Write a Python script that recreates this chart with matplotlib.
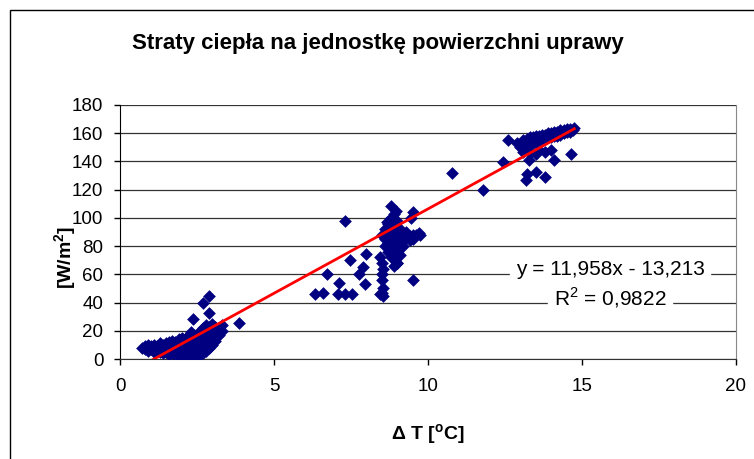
import matplotlib.pyplot as plt
import numpy as np
from matplotlib.patches import Rectangle

plt.rcParams['font.family'] = ['Liberation Sans', 'DejaVu Sans']

# low cluster (dT, q)
low_x = [0.7, 0.8, 0.8, 0.9, 0.9, 1.0, 1.0, 1.1, 1.1, 1.1, 1.2, 1.2, 1.3, 1.3, 1.3,
         1.4, 1.4, 1.4, 1.5, 1.5, 1.5, 1.6, 1.6, 1.6, 1.6, 1.7, 1.7, 1.7, 1.7,
         1.8, 1.8, 1.8, 1.8, 1.9, 1.9, 1.9, 1.9, 1.9, 2.0, 2.0, 2.0, 2.0, 2.0,
         2.1, 2.1, 2.1, 2.1, 2.1, 2.2, 2.2, 2.2, 2.2, 2.2, 2.3, 2.3, 2.3, 2.3, 2.3, 2.3,
         2.4, 2.4, 2.4, 2.4, 2.4, 2.5, 2.5, 2.5, 2.5, 2.6, 2.6, 2.6, 2.6, 2.6,
         2.7, 2.7, 2.7, 2.7, 2.7, 2.8, 2.8, 2.8, 2.8, 2.8, 2.9, 2.9, 2.9, 2.9,
         3.0, 3.0, 3.0, 3.0, 3.1, 3.1, 3.1, 3.2, 3.2, 3.3, 3.3,
         2.38, 2.68, 2.9, 2.9, 3.87]
low_y = [8, 7, 9, 6, 10, 7, 9, 5, 8, 10, 6, 9, 5, 8, 11,
         4, 7, 10, 5, 8, 11, 3, 6, 9, 12, 4, 7, 10, 13,
         3, 6, 9, 12, 2, 5, 8, 11, 14, 3, 6, 9, 12, 15,
         1, 4, 7, 10, 14, 2, 5, 8, 12, 16, 1, 4, 7, 10, 14, 19,
         2, 5, 9, 13, 17, 2, 6, 10, 14, 3, 7, 11, 16, 20,
         4, 8, 13, 18, 22, 6, 10, 15, 20, 24, 8, 13, 18, 23,
         10, 15, 20, 25, 13, 18, 23, 17, 22, 20, 24,
         28.6, 40, 44.6, 32.4, 25.5]

# middle cluster
mid_x = [8.7, 8.8, 8.8, 8.9, 8.9, 8.9, 9.0, 9.0, 9.0, 8.8, 8.7, 8.6, 8.7, 8.8,
         8.9, 9.0, 9.1, 9.1, 9.1, 9.2, 9.2, 9.3, 9.4, 9.5, 9.6, 9.7, 9.75, 9.4,
         9.2, 9.0, 9.1, 8.6, 8.7, 8.8, 8.9, 9.0, 9.3, 9.5, 9.0, 8.9, 8.6, 8.5,
         8.8, 9.5, 9.45, 8.95, 8.66, 7.31, 7.99, 7.47, 7.88, 6.71, 7.76, 7.95,
         7.12, 6.33, 6.58, 7.09, 7.31, 7.52, 8.44, 8.5, 8.55, 8.5, 8.5, 8.55,
         8.5, 8.45, 9.52, 8.98, 8.55]
mid_y = [96, 92, 100, 88, 95, 103, 84, 90, 98, 84, 88, 80, 76, 72,
         78, 76, 80, 86, 92, 84, 88, 86, 87, 88, 88, 89, 88, 84,
         80, 72, 74, 85, 82, 78, 82, 80, 90, 85, 68, 66, 92, 88,
         108.4, 104.4, 100, 105, 97, 97.8, 74.6, 69.9, 65.2, 60, 60, 52.9,
         54, 46.3, 47, 46, 46, 46, 45.8, 47, 44.8, 56, 60, 64,
         68, 72, 55.7, 68.2, 50]

# high cluster
high_x = [13.0, 13.1, 13.1, 13.2, 13.2, 13.3, 13.3, 13.4, 13.4, 13.5, 13.5,
          13.6, 13.6, 13.7, 13.7, 13.8, 13.8, 13.9, 13.9, 14.0, 14.0, 14.1, 14.1,
          14.2, 14.2, 14.3, 14.3, 14.4, 14.4, 14.5, 14.5, 14.6, 14.6, 14.7, 14.75,
          13.1, 13.3, 13.5, 13.6, 13.8, 14.0, 13.2,
          12.61, 11.78, 12.45, 13.2, 13.17, 13.51, 13.8, 14.1, 14.63, 13.29,
          10.78, 12.9]
high_y = [150, 151, 155, 152, 156, 153, 157, 153, 157, 154, 158,
          155, 158, 155, 159, 156, 159, 157, 160, 157, 160, 158, 161,
          158, 161, 159, 162, 160, 162, 161, 163, 161, 163, 162, 163.5,
          147, 146, 145, 148, 147, 148, 149,
          155, 119.5, 139.6, 130.8, 126.9, 132.7, 129.2, 141, 145.5, 140.8,
          131.8, 153]

slope = 11.958
intercept = -13.213

x_all = np.array(low_x + mid_x + high_x)
y_all = np.array(low_y + mid_y + high_y)

fig = plt.figure(figsize=(7.54, 4.59), dpi=100)
ax = fig.add_axes([120 / 754, 1 - 359 / 459, (736 - 120) / 754, (359 - 105) / 459])

ax.scatter(x_all, y_all, marker='D', s=42, color='#000080', linewidths=0, zorder=3)

xl = np.array([x_all.min(), x_all.max()])
ax.plot(xl, slope * xl + intercept, color='#ff0000', lw=2, zorder=4)

ax.set_xlim(0, 20)
ax.set_ylim(0, 180)
ax.set_xticks([0, 5, 10, 15, 20])
ax.set_yticks(np.arange(0, 181, 20))
ax.yaxis.grid(True, color='#333333', lw=0.9)
ax.set_axisbelow(True)
ax.tick_params(labelsize=13.5, length=4.5, width=1, color='black')
ax.tick_params(axis='x', pad=9)
ax.tick_params(axis='y', pad=7.5)
ax.spines['right'].set_color('#888888')
ax.spines['top'].set_visible(False)
ax.spines['left'].set_color('black')
ax.spines['bottom'].set_color('#333333')

ax.set_xlabel('Δ T [$^{\\mathregular{o}}$C]', fontsize=14, fontweight='bold', labelpad=20)
ax.set_ylabel('[W/m$^{\\mathregular{2}}$]', fontsize=14, fontweight='bold')
ax.yaxis.set_label_coords(-0.066, 0.40)

ax.text(0.796, 0.352, 'y = 11,958x - 13,213', transform=ax.transAxes, fontsize=15,
        ha='center', va='center', backgroundcolor='white', zorder=5)
ax.text(0.796, 0.242, 'R$^{\\mathregular{2}}$ = 0,9822', transform=ax.transAxes, fontsize=15,
        ha='center', va='center', backgroundcolor='white', zorder=5)

fig.text(378 / 754, 1 - 43 / 459, 'Straty ciepła na jednostkę powierzchni uprawy',
         fontsize=16, fontweight='bold', ha='center', va='center')

fig.patches.append(Rectangle((10 / 754, -0.1), 1.2, 1 - 10 / 459 + 0.1,
                             transform=fig.transFigure, fill=False, ec='black', lw=1))

fig.savefig('out.png', dpi=100)
